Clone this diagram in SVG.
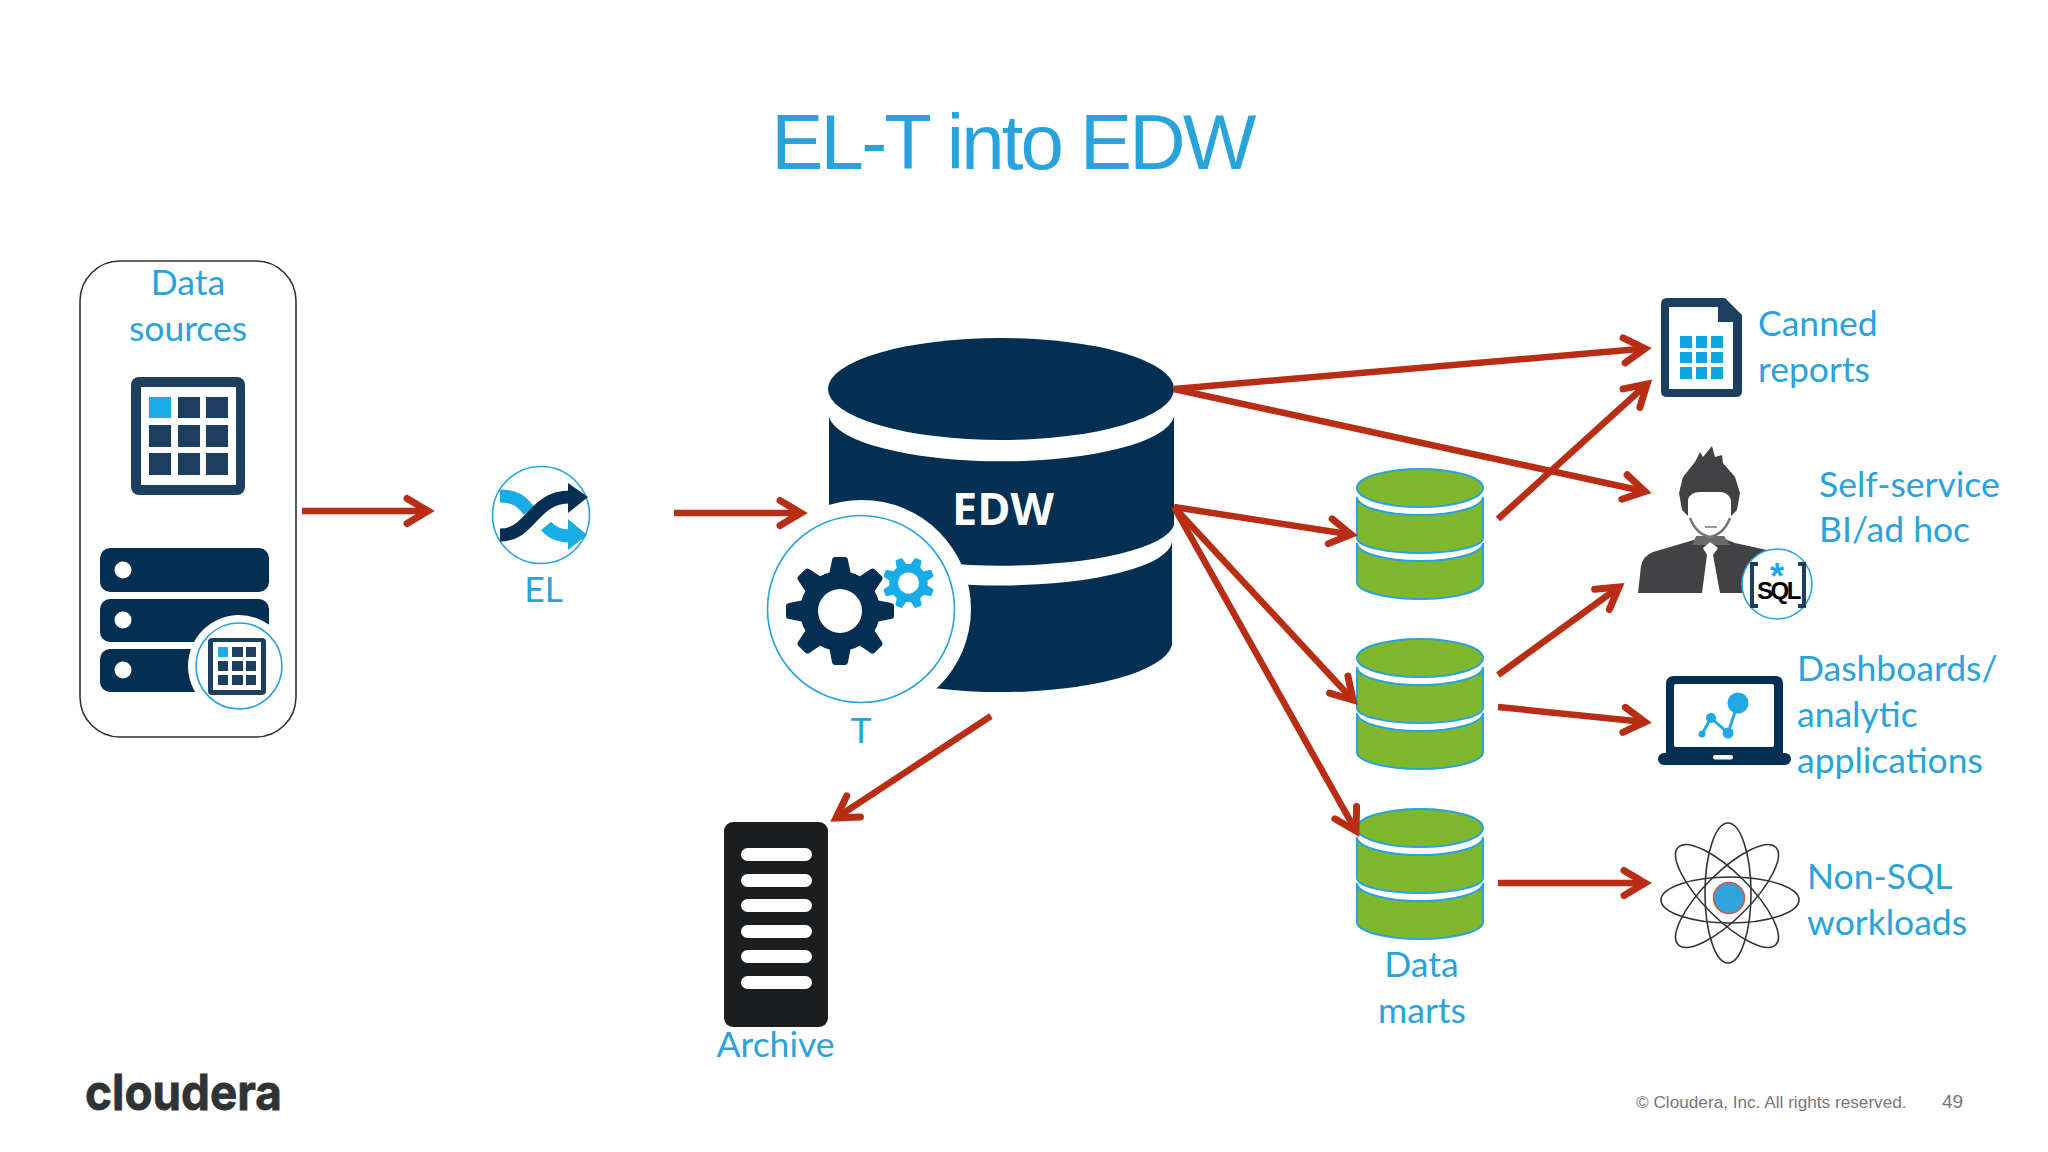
<svg xmlns="http://www.w3.org/2000/svg" width="2048" height="1152" viewBox="0 0 2048 1152">
<style>
.lbl{font-family:"Lato","Carlito","Liberation Sans",sans-serif;font-size:35.5px;fill:#29a3db}
.m{text-anchor:middle}
.navy{fill:#022f52}
.grid{fill:#1c3f5f}
.cy{fill:#19ace6}
.ln{stroke:#b92d14;stroke-width:6.5;fill:none;marker-end:url(#ah)}
.ring{fill:#fff;stroke:#29a3db;stroke-width:1.6}
.orb{fill:none;stroke:#333;stroke-width:1.6}
.foot{font-family:"Liberation Sans",Arial,sans-serif;fill:#77787b}
</style>
<defs>
<marker id="ah" markerUnits="userSpaceOnUse" viewBox="-30 -20 40 40" refX="0" refY="0" markerWidth="40" markerHeight="40" orient="auto">
<path d="M-21 -12.5L0 0L-21 12.5" fill="none" stroke="#b92d14" stroke-width="7" stroke-linecap="round" stroke-linejoin="miter"/>
</marker>
<path id="tooth" d="M-11 -36L-8 -51Q-7.5 -54 -5 -54L5 -54Q7.5 -54 8 -51L11 -36Z"/>
<g id="gear">
<path fill-rule="evenodd" d="M-40 0A40 40 0 1 0 40 0A40 40 0 1 0 -40 0ZM-22 0A22 22 0 1 0 22 0A22 22 0 1 0 -22 0Z"/>
<use href="#tooth"/><use href="#tooth" transform="rotate(45)"/><use href="#tooth" transform="rotate(90)"/><use href="#tooth" transform="rotate(135)"/><use href="#tooth" transform="rotate(180)"/><use href="#tooth" transform="rotate(225)"/><use href="#tooth" transform="rotate(270)"/><use href="#tooth" transform="rotate(315)"/>
</g>
<g id="mart" fill="#7fb82f" stroke="#29a3db" stroke-width="2">
<ellipse cx="1420" cy="488" rx="63" ry="19"/>
<path d="M1357 497A63 18 0 0 0 1483 497L1483 538A63 15 0 0 1 1357 538Z"/>
<path d="M1357 543A63 18 0 0 0 1483 543L1483 582A63 17 0 0 1 1357 582Z"/>
</g>
</defs>
<rect width="2048" height="1152" fill="#fff"/>
<text id="title" x="1012.500" y="169" text-anchor="middle" font-family="Liberation Sans,Arial,sans-serif" font-size="78" letter-spacing="-2.800" fill="#29a3db">EL-T into EDW</text>

<g id="data-sources">
<rect x="80" y="261" width="216" height="476" rx="40" fill="#fff" stroke="#333" stroke-width="1.6"/>
<text class="lbl m" x="188" y="295">Data</text>
<text class="lbl m" x="188" y="341">sources</text>
<rect x="131" y="377" width="114" height="118" rx="8" class="grid"/>
<rect x="141" y="387" width="95" height="98" fill="#fff"/>
<rect x="149" y="397" width="22" height="21" class="cy"/>
<g class="grid">
<rect x="178" y="397" width="22" height="21"/><rect x="206" y="397" width="22" height="21"/>
<rect x="149" y="425" width="22" height="22"/><rect x="178" y="425" width="22" height="22"/><rect x="206" y="425" width="22" height="22"/>
<rect x="149" y="453" width="22" height="22"/><rect x="178" y="453" width="22" height="22"/><rect x="206" y="453" width="22" height="22"/>
</g>
<g class="navy">
<rect x="100" y="548" width="169" height="44" rx="10"/><rect x="100" y="599" width="169" height="43" rx="10"/><rect x="100" y="649" width="169" height="43" rx="10"/>
</g>
<g fill="#fff"><circle cx="123" cy="570" r="8.500"/><circle cx="123" cy="620" r="8.500"/><circle cx="123" cy="670" r="8.500"/>
<circle cx="239" cy="666" r="51"/></g>
<circle cx="239" cy="666" r="43" class="ring"/>
<rect x="208" y="638" width="58" height="57" rx="4" class="grid"/>
<rect x="213" y="642" width="48" height="48" fill="#fff"/>
<rect x="218" y="647" width="10" height="10" class="cy"/>
<g class="grid">
<rect x="232" y="647" width="11" height="10"/><rect x="246" y="647" width="10" height="10"/>
<rect x="218" y="661" width="10" height="10"/><rect x="232" y="661" width="11" height="10"/><rect x="246" y="661" width="10" height="10"/>
<rect x="218" y="675" width="10" height="10"/><rect x="232" y="675" width="11" height="10"/><rect x="246" y="675" width="10" height="10"/>
</g>
</g>

<g id="el">
<circle cx="541" cy="515" r="48.500" class="ring"/>
<path d="M500 496C515 496 522 501 529 511" fill="none" stroke="#19ace6" stroke-width="13"/>
<path d="M546 526C552 533 560 536 570 536" fill="none" stroke="#19ace6" stroke-width="13"/>
<path d="M568 519L587 535L568 550Z" class="cy"/>
<path d="M500 535C532 535 532 497 570 497" fill="none" stroke="#022f52" stroke-width="13"/>
<path d="M568 483L588 497L568 513Z" class="navy"/>
<text class="lbl m" x="543.500" y="602">EL</text>
</g>

<g id="edw">
<ellipse cx="1001" cy="389" rx="173" ry="51" class="navy"/>
<path d="M829 417A173 48 0 0 0 1174 417L1174 525A173 44 0 0 1 829 525Z" class="navy"/>
<path d="M829 545A172 45 0 0 0 1172 542L1172 645A172 51 0 0 1 829 645Z" class="navy"/>
<text x="1003" y="525" text-anchor="middle" font-family="Open Sans,sans-serif" font-weight="700" font-size="45" fill="#fff">EDW</text>
</g>

<g id="t">
<circle cx="862" cy="609" r="109" fill="#fff"/>
<circle cx="861" cy="609" r="93.500" class="ring"/>
<use href="#gear" class="navy" transform="translate(840 611)"/>
<use href="#gear" class="cy" transform="translate(908.500 583) rotate(22.500) scale(.48)"/>
<text class="lbl m" x="861" y="743">T</text>
</g>

<g id="archive">
<rect x="724" y="822" width="104" height="205" rx="9" fill="#1b1d1f"/>
<g fill="#fff">
<rect x="741" y="848" width="71" height="13" rx="6.500"/><rect x="741" y="874" width="71" height="13" rx="6.500"/><rect x="741" y="899" width="71" height="13" rx="6.500"/><rect x="741" y="925" width="71" height="13" rx="6.500"/><rect x="741" y="950" width="71" height="13" rx="6.500"/><rect x="741" y="976" width="71" height="13" rx="6.500"/>
</g>
<text class="lbl m" x="775.500" y="1057">Archive</text>
</g>

<g id="mart-1"><use href="#mart"/></g>
<g id="mart-2"><use href="#mart" y="170"/></g>
<g id="mart-3"><use href="#mart" y="340"/>
<text class="lbl m" x="1421.500" y="977">Data</text>
<text class="lbl m" x="1422" y="1023">marts</text></g>

<g id="canned-reports">
<path d="M1667 298L1725 298L1742 315L1742 391Q1742 397 1736 397L1667 397Q1661 397 1661 391L1661 304Q1661 298 1667 298Z" class="grid"/>
<path d="M1669 307L1718 307L1718 322L1733 322L1733 389L1669 389Z" fill="#fff"/>
<g fill="#0ea5e0">
<rect x="1680" y="336" width="12" height="12"/><rect x="1696" y="336" width="11" height="12"/><rect x="1711" y="336" width="12" height="12"/>
<rect x="1680" y="352" width="12" height="11"/><rect x="1696" y="352" width="11" height="11"/><rect x="1711" y="352" width="12" height="11"/>
<rect x="1680" y="367" width="12" height="12"/><rect x="1696" y="367" width="11" height="12"/><rect x="1711" y="367" width="12" height="12"/>
</g>
<text class="lbl" x="1758" y="336">Canned</text>
<text class="lbl" x="1758" y="382">reports</text>
</g>

<g id="self-service">
<path d="M1638 593L1641 566Q1643 556 1653 552L1687 542L1700 538L1722 538L1735 543L1767 550L1752 593Z" fill="#424244"/>
<path d="M1696 536L1724 536L1730 545L1692 545Z" fill="#6a6a6c"/>
<path d="M1703 548L1710 542L1718 548L1713 555L1720 593L1702 593L1707 555Z" fill="#fff"/>
<path d="M1679 493L1683 477L1695 462L1700 452L1703 457L1712 446L1715 457L1722 455L1723 463L1735 477L1740 493L1737 510L1731 516L1731 500Q1728 492 1720 492L1700 492Q1690 492 1688 500L1688 516L1682 510Z" fill="#424244"/>
<path d="M1690 518Q1696 534 1710 537Q1724 534 1730 518" fill="none" stroke="#777" stroke-width="2.500"/>
<path d="M1705 527L1717 527" stroke="#9a9a9c" stroke-width="2"/>
<circle cx="1777" cy="584" r="35" class="ring"/>
<path d="M1758 564L1752 564L1752 606L1758 606M1798 564L1804 564L1804 606L1798 606" fill="none" stroke="#1c3f5f" stroke-width="4"/>
<text font-family="Liberation Sans,sans-serif" font-weight="700"><tspan x="1770" y="589" font-size="36" fill="#19ace6">*</tspan><tspan x="1757" y="599" font-size="24" letter-spacing="-2.500" fill="#000">SQL</tspan></text>
<text class="lbl" x="1819" y="497">Self-service</text>
<text class="lbl" x="1819" y="542">BI/ad hoc</text>
</g>

<g id="dashboards">
<path d="M1666 753L1666 684Q1666 676 1674 676L1775 676Q1783 676 1783 684L1783 753Z" class="navy"/>
<rect x="1658" y="753" width="133" height="12" rx="6" class="navy"/>
<rect x="1674" y="684" width="100" height="63" rx="2" fill="#fff"/>
<rect x="1713" y="755" width="20" height="4.500" rx="2.200" fill="#fff"/>
<path d="M1702 734L1711 718L1728 733L1738 703" fill="none" stroke="#1fa9e4" stroke-width="3"/>
<g fill="#1fa9e4"><circle cx="1702" cy="734" r="3.500"/><circle cx="1711" cy="718" r="5"/><circle cx="1728" cy="733" r="5.500"/><circle cx="1738" cy="703" r="10.500"/></g>
<text class="lbl" x="1797" y="681">Dashboards/</text>
<text class="lbl" x="1797" y="727">analytic</text>
<text class="lbl" x="1797" y="773">applications</text>
</g>

<g id="non-sql">
<ellipse cx="1730" cy="900" rx="69" ry="23" class="orb"/>
<ellipse cx="1728" cy="893" rx="23" ry="70" class="orb"/>
<ellipse cx="1727" cy="896" rx="69" ry="23" transform="rotate(45 1727 896)" class="orb"/>
<ellipse cx="1727" cy="896" rx="69" ry="23" transform="rotate(-45 1727 896)" class="orb"/>
<circle cx="1729" cy="898" r="15.500" fill="#2ea3dc" stroke="#e0503a" stroke-width="1.500"/>
<text class="lbl" x="1807" y="889">Non-SQL</text>
<text class="lbl" x="1807" y="935">workloads</text>
</g>

<g id="connectors">
<line class="ln" x1="302" y1="511" x2="428" y2="511"/>
<line class="ln" x1="674" y1="513" x2="801" y2="513"/>
<line class="ln" x1="1174" y1="389" x2="1645" y2="348.600"/>
<line class="ln" x1="1174" y1="389" x2="1645" y2="491.500"/>
<line class="ln" x1="1174" y1="507" x2="1351" y2="534.500"/>
<line class="ln" x1="1174" y1="507" x2="1353" y2="700"/>
<line class="ln" x1="1174" y1="507" x2="1356" y2="831"/>
<line class="ln" x1="991" y1="716" x2="836" y2="818"/>
<line class="ln" x1="1498" y1="519" x2="1647" y2="384"/>
<line class="ln" x1="1498" y1="675" x2="1619" y2="587"/>
<line class="ln" x1="1498" y1="707" x2="1645" y2="722"/>
<line class="ln" x1="1498" y1="883" x2="1645" y2="883"/>
</g>

<g id="footer">
<text x="85" y="1110" font-family="Inter,Liberation Sans,sans-serif" font-size="50" font-weight="700" textLength="197" lengthAdjust="spacingAndGlyphs" fill="#2f3336" stroke="#2f3336" stroke-width=".8">cloudera</text>
<text class="foot" x="1636" y="1108" font-size="17.200">© Cloudera, Inc. All rights reserved.</text>
<text class="foot" x="1942" y="1108" font-size="19">49</text>
</g>
</svg>
